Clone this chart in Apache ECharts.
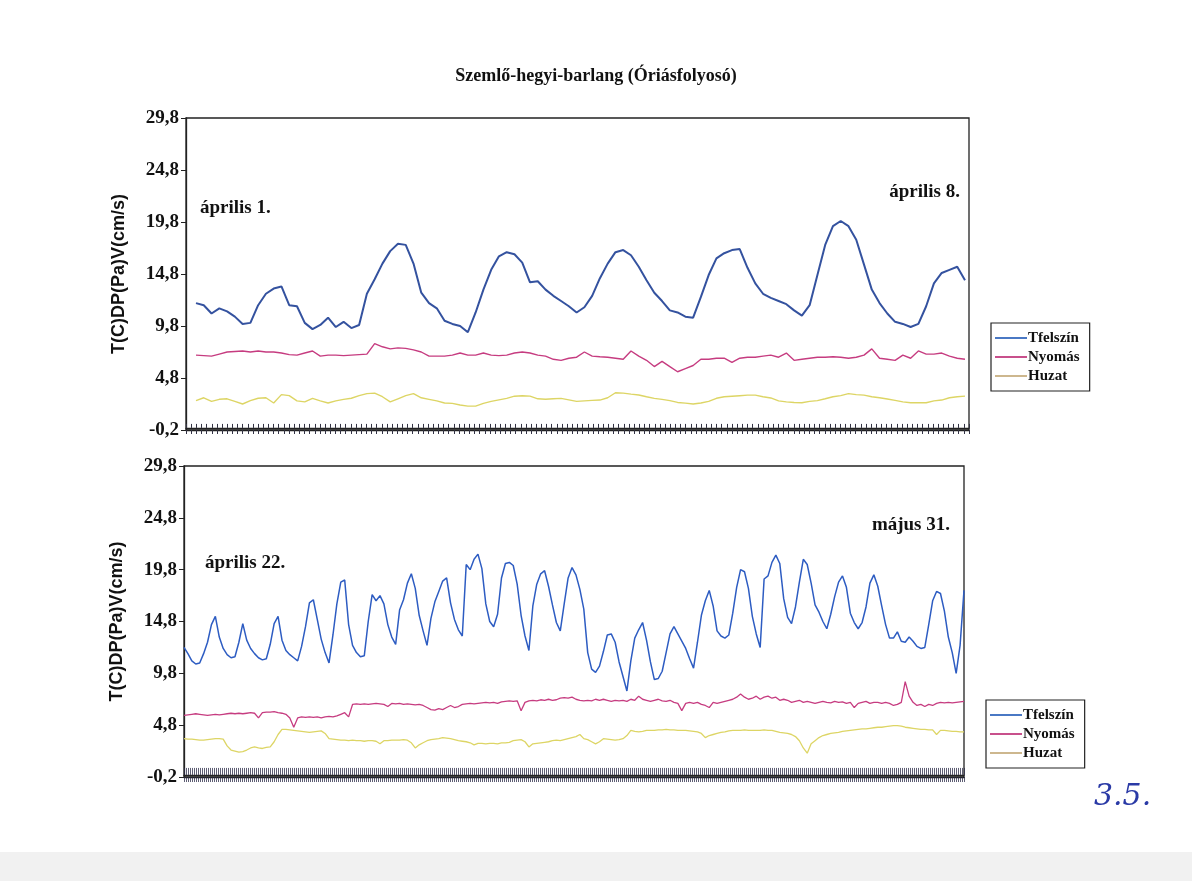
<!DOCTYPE html>
<html>
<head>
<meta charset="utf-8">
<script src="https://cdn.jsdelivr.net/npm/echarts@6/dist/echarts.min.js"></script>
<style>
html,body{margin:0;padding:0;background:#fff;}
#chart{width:1192px;height:881px;}
</style>
</head>
<body>
<div id="chart"></div>
<script>
// ---------- DATA ----------
const titleText = 'Szemlő-hegyi-barlang (Óriásfolyosó)';
const yAxisName = 'T(C)DP(Pa)V(cm/s)';
const seriesNames = ['Tfelszín', 'Nyomás', 'Huzat'];
const yTicks = [-0.2, 4.8, 9.8, 14.8, 19.8, 24.8, 29.8];
const topLabels = ['április 1.', 'április 8.'];
const bottomLabels = ['április 22.', 'május 31.'];
const topTickCount = 152;
const bottomTickCount = 390;

// Top panel (április 1. – április 8.)
const topTfelszin = [
12.0,11.8,11.0,11.5,11.2,10.7,10.0,10.1,11.8,12.9,
13.4,13.6,11.8,11.7,10.1,9.5,9.9,10.6,9.7,10.2,
9.6,9.9,12.9,14.3,15.8,17.0,17.7,17.6,15.8,13.0,
12.0,11.5,10.3,10.0,9.8,9.2,11.1,13.3,15.2,16.5,
16.9,16.7,15.9,14.0,14.1,13.3,12.7,12.2,11.7,11.1,
11.6,12.7,14.4,15.8,16.9,17.1,16.6,15.5,14.2,13.0,
12.2,11.3,11.1,10.7,10.6,12.6,14.7,16.3,16.8,17.1,
17.2,15.4,13.9,12.9,12.5,12.2,11.9,11.3,10.8,11.8,
14.7,17.6,19.4,19.9,19.4,18.1,15.7,13.3,12.0,11.0,
10.2,10.0,9.7,10.0,11.7,13.9,14.9,15.2,15.5,14.2
];
const topNyomas = [
7.0,6.95,6.9,7.1,7.3,7.35,7.4,7.3,7.4,7.3,
7.3,7.2,7.05,7.0,7.2,7.4,6.9,7.0,7.0,6.95,
7.0,7.05,7.1,8.1,7.8,7.6,7.7,7.65,7.5,7.3,
6.9,6.9,6.9,7.0,7.2,7.0,7.0,7.2,7.0,6.95,
7.0,7.2,7.3,7.2,7.0,6.9,6.6,6.5,6.7,6.8,
7.3,6.9,6.84,6.8,6.7,6.6,7.4,6.9,6.5,5.9,
6.4,5.9,5.4,5.7,6.0,6.6,6.6,6.7,6.7,6.3,
6.7,6.8,6.8,6.9,7.0,6.8,7.2,6.5,6.6,6.7,
6.8,6.8,6.84,6.8,6.7,6.8,7.0,7.6,6.7,6.6,
6.5,7.0,6.7,7.4,7.1,7.1,7.2,6.9,6.7,6.6
];
const topHuzat = [
2.62,2.9,2.55,2.75,2.8,2.55,2.3,2.62,2.85,2.9,
2.4,3.2,3.1,2.6,2.5,2.84,2.6,2.4,2.6,2.75,
2.85,3.1,3.3,3.35,3.0,2.5,2.8,3.1,3.3,2.9,
2.75,2.6,2.4,2.36,2.2,2.1,2.1,2.36,2.55,2.7,
2.84,3.05,3.1,3.06,2.8,2.75,2.8,2.84,2.7,2.55,
2.6,2.65,2.68,2.9,3.38,3.35,3.25,3.17,3.0,2.84,
2.75,2.62,2.45,2.38,2.3,2.4,2.55,2.85,3.0,3.05,
3.1,3.15,3.15,3.0,2.88,2.6,2.5,2.45,2.42,2.55,
2.62,2.8,3.0,3.1,3.3,3.2,3.15,3.0,2.9,2.78,
2.65,2.5,2.42,2.42,2.42,2.6,2.68,2.9,3.0,3.06
];

// Bottom panel (április 22. – május 31.)
const botTfelszin = [
12.3,11.7,11.0,10.7,10.8,11.7,12.8,14.5,15.3,13.3,
12.2,11.6,11.3,11.4,12.8,14.6,13.0,12.2,11.7,11.3,
11.1,11.2,12.6,14.6,15.3,13.0,12.0,11.6,11.3,11.0,
12.4,14.3,16.6,16.9,15.0,13.1,11.8,10.8,13.5,16.5,
18.6,18.8,14.5,12.5,11.8,11.4,11.5,14.8,17.4,16.8,
17.3,16.5,14.5,13.3,12.6,15.9,16.9,18.5,19.4,18.0,
15.4,13.9,12.5,15.1,16.7,17.7,18.7,19.0,16.6,15.0,
14.0,13.4,20.3,19.8,20.8,21.3,19.9,16.5,14.8,14.3,
15.5,19.0,20.4,20.5,20.2,18.4,15.4,13.4,12.0,16.3,
18.4,19.4,19.7,18.2,16.4,14.7,13.9,16.5,19.0,20.0,
19.3,17.9,16.0,11.8,10.2,9.9,10.5,11.9,13.5,13.6,
12.8,10.9,9.5,8.1,11.0,13.2,14.0,14.7,13.0,10.9,
9.2,9.3,10.0,11.8,13.6,14.3,13.6,12.9,12.2,11.2,
10.3,12.8,15.4,16.8,17.8,16.3,13.9,13.4,13.2,13.5,
15.6,18.1,19.8,19.6,18.0,15.3,13.6,12.3,18.9,19.2,
20.5,21.2,20.4,17.0,15.2,14.6,16.2,18.6,20.8,20.3,
18.5,16.4,15.7,14.8,14.1,15.5,17.2,18.6,19.2,18.1,
15.6,14.7,14.1,14.7,16.2,18.5,19.3,18.2,16.3,14.5,
13.2,13.2,13.8,12.9,12.8,13.3,12.9,12.4,12.2,12.3,
14.5,16.8,17.7,17.5,15.8,13.3,11.8,9.8,12.5,17.8
];
const botNyomas = [
5.75,5.8,5.85,5.9,5.85,5.8,5.75,5.8,5.85,5.8,
5.85,5.9,5.95,5.9,5.95,5.9,5.95,6.0,5.95,5.5,
6.0,6.05,6.05,6.1,6.0,5.95,5.85,5.5,4.6,5.5,
5.6,5.55,5.6,5.55,5.6,5.5,5.6,5.65,5.6,5.7,
5.85,6.0,5.6,6.8,6.85,6.8,6.85,6.8,6.85,6.9,
6.85,6.8,6.6,6.9,6.85,6.9,6.8,6.85,6.8,6.75,
6.8,6.7,6.5,6.3,6.25,6.4,6.3,6.5,6.7,6.5,
6.6,6.8,6.85,6.9,6.85,6.9,6.95,7.0,6.95,7.0,
6.9,7.05,7.1,7.15,7.1,7.15,6.2,7.0,7.15,7.2,
7.15,7.25,7.2,7.3,7.2,7.25,7.4,7.45,7.4,7.5,
7.3,7.2,7.15,7.2,7.15,7.3,7.2,7.3,7.2,7.1,
7.2,7.15,7.2,7.1,7.3,7.2,7.6,7.3,7.2,7.1,
7.2,7.3,7.15,7.1,7.2,7.0,6.9,6.2,6.9,7.0,
6.9,7.0,6.8,6.7,6.5,7.0,6.9,7.0,7.1,7.2,
7.3,7.5,7.8,7.5,7.3,7.4,7.6,7.3,7.5,7.6,
7.4,7.5,7.2,7.3,7.2,7.0,7.1,7.2,7.0,7.1,
7.0,6.9,7.0,7.1,7.0,6.95,7.1,7.0,7.05,6.9,
7.0,6.5,6.9,7.0,7.1,6.9,7.0,7.0,6.9,7.0,
6.9,6.7,6.8,7.0,9.0,7.6,7.0,6.7,6.8,6.6,
6.8,6.7,6.9,7.0,6.95,7.0,6.95,7.0,7.05,7.1
];
const botHuzat = [
3.5,3.45,3.45,3.4,3.35,3.35,3.4,3.45,3.5,3.5,
3.45,2.8,2.4,2.3,2.2,2.25,2.4,2.6,2.7,2.6,
2.55,2.65,2.7,3.2,3.9,4.4,4.4,4.35,4.3,4.25,
4.2,4.15,4.1,4.15,4.2,4.25,4.0,3.5,3.45,3.4,
3.35,3.35,3.3,3.35,3.3,3.3,3.25,3.3,3.3,3.25,
3.0,3.3,3.3,3.35,3.35,3.35,3.4,3.35,3.1,2.6,
2.9,3.1,3.3,3.4,3.45,3.5,3.6,3.55,3.5,3.4,
3.3,3.25,3.2,3.1,2.9,3.05,3.05,3.0,3.05,3.05,
3.0,3.1,3.1,3.15,3.3,3.35,3.4,3.2,2.7,3.0,
3.05,3.1,3.15,3.2,3.3,3.35,3.3,3.4,3.5,3.6,
3.7,3.9,3.5,3.4,3.2,3.0,3.2,3.5,3.45,3.4,
3.35,3.4,3.5,3.8,4.3,4.2,4.15,4.2,4.3,4.3,
4.3,4.35,4.35,4.4,4.35,4.35,4.3,4.3,4.3,4.25,
4.2,4.15,4.0,3.6,3.8,3.9,4.0,4.1,4.15,4.25,
4.3,4.3,4.3,4.35,4.3,4.3,4.3,4.3,4.35,4.3,
4.3,4.2,4.1,4.05,4.0,3.9,3.7,3.3,2.6,2.1,
3.0,3.3,3.6,3.8,3.9,4.0,4.05,4.1,4.2,4.25,
4.3,4.35,4.4,4.45,4.45,4.5,4.55,4.6,4.6,4.65,
4.7,4.75,4.75,4.7,4.6,4.55,4.5,4.45,4.4,4.4,
4.35,4.35,3.9,4.3,4.3,4.25,4.2,4.2,4.15,4.15
];

// ---------- STYLE ----------
const C_BLUE_TOP = '#34529f';
const C_BLUE_BOT = '#2d5cc2';
const C_MAG = '#c63c80';
const C_YEL = '#ddd565';
const serif = "'Liberation Serif','DejaVu Serif',serif";
const sans = "'Liberation Sans',Arial,sans-serif";
const fmt = v => v.toFixed(1).replace('.', ',');

function frameY(gridIndex) {
  return {
    gridIndex, type: 'value', min: yTicks[0], max: yTicks[yTicks.length - 1],
    name: yAxisName, nameLocation: 'middle', nameGap: 58, nameRotate: 90,
    nameTextStyle: { fontFamily: sans, fontWeight: 'bold', fontSize: 18, color: '#111' },
    axisLine: { show: true, lineStyle: { color: '#222', width: 1.3 } },
    axisTick: { show: true, length: 5, customValues: yTicks, lineStyle: { color: '#222' } },
    axisLabel: { customValues: yTicks, formatter: fmt, fontFamily: serif, fontWeight: 'bold', fontSize: 19, color: '#111', margin: 7 },
    splitLine: { show: false }
  };
}
function hiddenY(gridIndex) {
  return { gridIndex, type: 'value', min: yTicks[0], max: yTicks[yTicks.length - 1], show: false, splitLine: { show: false } };
}
function tickX(gridIndex, count, inside, len, color) {
  return {
    gridIndex, type: 'value', min: 0, max: count, interval: 1, position: 'bottom',
    axisLine: { show: true, lineStyle: { color: '#222', width: 1.3 } },
    axisTick: { show: true, inside, length: len, lineStyle: { color, width: 1 } },
    axisLabel: { show: false }, splitLine: { show: false }
  };
}
function dataX(gridIndex, arr) {
  return { gridIndex, type: 'category', boundaryGap: false, data: arr.map((_, i) => i), show: false };
}
function line(name, data, xi, yi, color, width) {
  return {
    name, type: 'line', data, xAxisIndex: xi, yAxisIndex: yi, showSymbol: false, symbol: 'none',
    smooth: false, animation: false, color, lineStyle: { color, width }
  };
}
function legendBox(left, top) {
  return {
    orient: 'vertical', left, top, itemWidth: 32, itemHeight: 2, itemGap: 3, icon: 'rect',
    padding: [7, 10, 7, 4], borderColor: '#222', borderWidth: 1.2, backgroundColor: '#fff',
    selectedMode: false,
    textStyle: { fontFamily: serif, fontWeight: 'bold', fontSize: 15, color: '#111', padding: [0, 0, 0, -4], lineHeight: 16 },
    data: [
      { name: seriesNames[0], itemStyle: { color: '#4a78c4' } },
      { name: seriesNames[1], itemStyle: { color: '#c8508c' } },
      { name: seriesNames[2], itemStyle: { color: '#cdb78e' } }
    ]
  };
}
function label(text, x, y, align) {
  return { type: 'text', left: align === 'right' ? undefined : x, right: align === 'right' ? 1192 - x : undefined, top: y,
    style: { text, fontFamily: serif, fontWeight: 'bold', fontSize: 19, fill: '#111' } };
}

const chart = echarts.init(document.getElementById('chart'));
chart.setOption({
  backgroundColor: '#fff',
  animation: false,
  title: { text: titleText, left: 'center', top: 62,
    textStyle: { fontFamily: serif, fontWeight: 'bold', fontSize: 18, color: '#111' } },
  grid: [
    { left: 186, top: 118, width: 783, height: 312, show: true, borderColor: '#222', borderWidth: 1.3, backgroundColor: 'transparent' },
    { left: 196, top: 118, width: 769, height: 312 },
    { left: 184, top: 466, width: 780, height: 311, show: true, borderColor: '#222', borderWidth: 1.3, backgroundColor: 'transparent' }
  ],
  xAxis: [
    tickX(0, topTickCount, true, 4, '#334'),
    tickX(0, topTickCount, false, 4, '#334'),
    dataX(1, topTfelszin),
    tickX(2, bottomTickCount, true, 7, 'rgba(40,40,70,0.75)'),
    tickX(2, bottomTickCount, false, 5, 'rgba(40,40,70,0.75)'),
    dataX(2, botTfelszin)
  ],
  yAxis: [frameY(0), hiddenY(1), frameY(2)],
  legend: [legendBox(991, 323), legendBox(986, 700)],
  series: [
    line(seriesNames[2], topHuzat, 2, 1, C_YEL, 1.4),
    line(seriesNames[1], topNyomas, 2, 1, C_MAG, 1.4),
    line(seriesNames[0], topTfelszin, 2, 1, C_BLUE_TOP, 2),
    line(seriesNames[2], botHuzat, 5, 2, C_YEL, 1.3),
    line(seriesNames[1], botNyomas, 5, 2, C_MAG, 1.3),
    line(seriesNames[0], botTfelszin, 5, 2, C_BLUE_BOT, 1.5)
  ],
  graphic: [
    { type: 'rect', left: 0, top: 852, shape: { width: 1192, height: 29 }, style: { fill: '#f1f1f1' }, silent: true },
    label(topLabels[0], 200, 199, 'left'),
    label(topLabels[1], 960, 183, 'right'),
    label(bottomLabels[0], 205, 554, 'left'),
    label(bottomLabels[1], 950, 516, 'right'),
    { type: 'text', left: 1094, top: 782,
      style: { text: '3.5.', fontFamily: "'DejaVu Serif',serif", fontStyle: 'italic', fontSize: 30, fill: '#2a3aa6' } }
  ]
});
</script>
</body>
</html>
